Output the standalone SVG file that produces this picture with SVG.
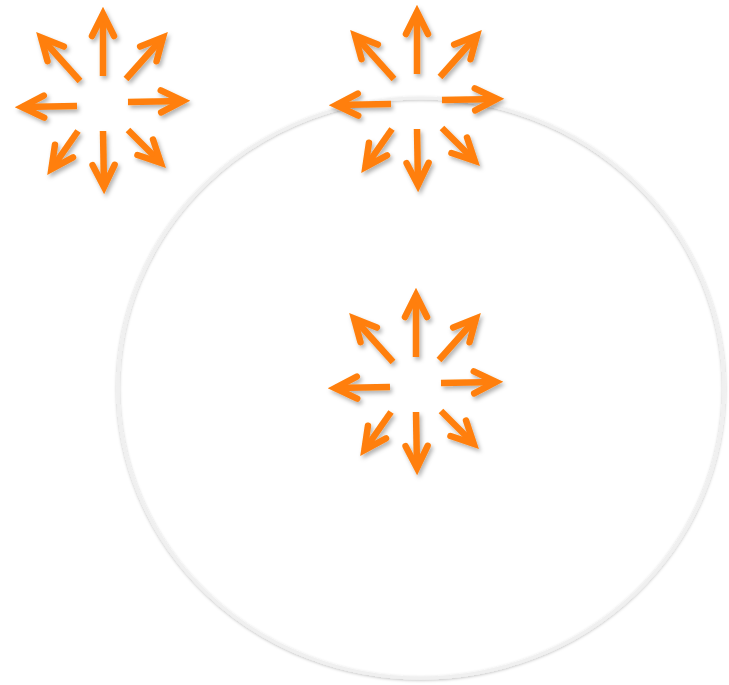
<svg xmlns="http://www.w3.org/2000/svg" width="729" height="685" viewBox="0 0 729 685">
  <defs>
    <filter id="sh" x="-20%" y="-20%" width="140%" height="140%">
      <feDropShadow dx="2" dy="3" stdDeviation="2" flood-color="#000" flood-opacity="0.3"/>
    </filter>
    <filter id="csh" x="-5%" y="-5%" width="110%" height="110%">
      <feDropShadow dx="0" dy="1" stdDeviation="1.5" flood-color="#000" flood-opacity="0.25"/>
    </filter>
    <marker id="head" markerUnits="userSpaceOnUse" markerWidth="40" markerHeight="40" refX="0" refY="0" orient="auto" overflow="visible">
      <path d="M-22,-11 L0,0 L-22,11" fill="none" stroke="#FF7F0A" stroke-width="6.5" stroke-linejoin="miter" stroke-linecap="round"/>
    </marker>
    <style>
      .a { fill: none; stroke: #FF7F0A; stroke-width: 6.5; stroke-linecap: butt; marker-end: url(#head); }
    </style>
  </defs>
  <rect width="729" height="685" fill="#fff"/>
  <g id="circle" filter="url(#csh)">
    <ellipse cx="421" cy="388" rx="303" ry="290" fill="none" stroke="#f0f0f0" stroke-width="3"/>
  </g>
  <g id="connectors" filter="url(#sh)">
    <g id="star1" transform="translate(103,104)">
      <path class="a" d="M0,-28 L0,-90"/>
      <path class="a" d="M23,-25 L60,-66.5"/>
      <path class="a" d="M25,-2 L80,-3"/>
      <path class="a" d="M25,26 L57.8,58.8"/>
      <path class="a" d="M0,27 L1,83"/>
      <path class="a" d="M-25,27 L-51.6,65.1"/>
      <path class="a" d="M-26,2 L-81,3"/>
      <path class="a" d="M-23,-23 L-62,-66.5"/>
    </g>
    <g id="star2" transform="translate(417,102)">
      <path class="a" d="M0,-28 L0,-90"/>
      <path class="a" d="M23,-25 L60,-66.5"/>
      <path class="a" d="M25,-2 L80,-3"/>
      <path class="a" d="M25,26 L57.8,58.8"/>
      <path class="a" d="M0,27 L1,83"/>
      <path class="a" d="M-25,27 L-51.6,65.1"/>
      <path class="a" d="M-26,2 L-81,3"/>
      <path class="a" d="M-23,-23 L-62,-66.5"/>
    </g>
    <g id="star3" transform="translate(416,385)">
      <path class="a" d="M0,-28 L0,-90"/>
      <path class="a" d="M23,-25 L60,-66.5"/>
      <path class="a" d="M25,-2 L80,-3"/>
      <path class="a" d="M25,26 L57.8,58.8"/>
      <path class="a" d="M0,27 L1,83"/>
      <path class="a" d="M-25,27 L-51.6,65.1"/>
      <path class="a" d="M-26,2 L-81,3"/>
      <path class="a" d="M-23,-23 L-62,-66.5"/>
    </g>
  </g>
</svg>
